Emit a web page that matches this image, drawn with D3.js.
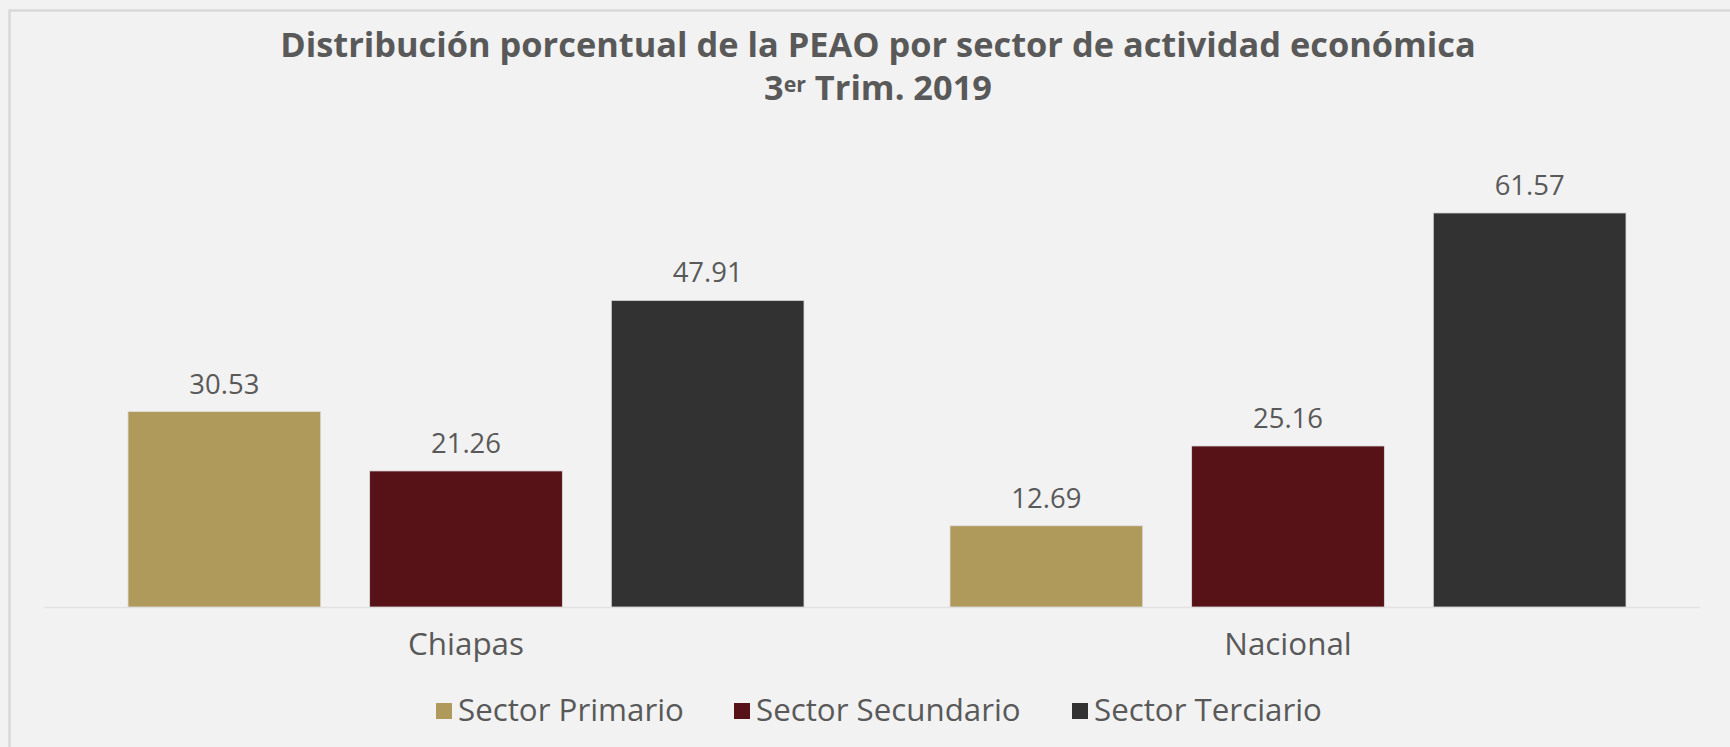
<!DOCTYPE html>
<html>
<head>
<meta charset="utf-8">
<script src="https://cdn.jsdelivr.net/npm/d3@7"></script>
<style>
  html, body { margin: 0; padding: 0; background: #f2f2f2; }
  svg { display: block; }
</style>
</head>
<body>
<svg id="chart" width="1730" height="747"></svg>
<script>
const categories = ["Chiapas", "Nacional"];
const seriesNames = ["Sector Primario", "Sector Secundario", "Sector Terciario"];
const primario = [30.53, 12.69];
const secundario = [21.26, 25.16];
const terciario = [47.91, 61.57];
const seriesColors = ["#b09a5b", "#561216", "#323232"];
const titleLine1 = "Distribución porcentual de la PEAO por sector de actividad económica";
const titleLine2 = ["3", "er", " Trim. 2019"];

const seriesValues = [primario, secundario, terciario];
const data = categories.map((c, i) => ({
  category: c,
  values: seriesNames.map((s, j) => ({ series: s, idx: j, value: seriesValues[j][i] }))
}));

const W = 1730, H = 747;
const svg = d3.select("#chart");
const textColor = "#595959";
const font = "'Open Sans', 'Liberation Sans', sans-serif";

svg.append("rect").attr("width", W).attr("height", H).attr("fill", "#f2f2f2");
svg.append("path")
  .attr("d", `M9.5,${H + 5} L9.5,10.5 L${W + 5},10.5`)
  .attr("fill", "none").attr("stroke", "#d9d9d9").attr("stroke-width", 2.5);

const probe = svg.append("text").attr("font-family", font);
function widthOf(str, size, weight) {
  probe.attr("font-weight", weight || 400).attr("font-size", size).text(str);
  return probe.node().getComputedTextLength();
}
function sizeFor(str, target, weight) {
  return +(20 * target / widthOf(str, 20, weight)).toFixed(2);
}

const titleSize = sizeFor(titleLine1, 1196, 700);
const supSize = titleSize * 0.62;
const sizes2 = [titleSize, supSize, titleSize];
const pieces2 = titleLine2.map(s => s.replace(/^ /, "\u00a0"));
const widths2 = pieces2.map((s, i) => widthOf(s, sizes2[i], 700));
const valueSize = sizeFor("61.57", 70);
const catSize = sizeFor("Chiapas", 116);
const legendSize = sizeFor("Sector Primario", 226);
probe.remove();

// Title line 1
svg.append("text")
  .attr("x", 878).attr("y", 57)
  .attr("text-anchor", "middle")
  .attr("font-family", font).attr("font-weight", 700)
  .attr("font-size", titleSize).attr("fill", textColor)
  .text(titleLine1);

// Title line 2 with superscript
let cx = 878 - d3.sum(widths2) / 2;
pieces2.forEach((s, i) => {
  svg.append("text")
    .attr("x", cx).attr("y", i === 1 ? 92 : 100)
    .attr("font-family", font).attr("font-weight", 700)
    .attr("font-size", sizes2[i]).attr("fill", textColor)
    .text(s);
  cx += widths2[i];
});

// Scales
const baseY = 607;
const y = d3.scaleLinear().domain([0, 70]).range([baseY, baseY - 448]);
const x0 = d3.scaleBand().domain(categories).range([55, 1699])
  .paddingInner(0.1776).paddingOuter(0.0888);
const x1 = d3.scaleBand().domain(seriesNames).range([0, x0.bandwidth()])
  .paddingInner(0.2025).paddingOuter(0);

svg.append("line")
  .attr("x1", 44).attr("x2", 1700)
  .attr("y1", baseY + 0.5).attr("y2", baseY + 0.5)
  .attr("stroke", "#e2e2e2").attr("stroke-width", 1.5);

const groups = svg.append("g").selectAll("g").data(data).join("g")
  .attr("transform", d => `translate(${x0(d.category)},0)`);

groups.selectAll("rect").data(d => d.values).join("rect")
  .attr("x", d => x1(d.series))
  .attr("y", d => y(d.value))
  .attr("width", x1.bandwidth())
  .attr("height", d => y(0) - y(d.value))
  .attr("fill", d => seriesColors[d.idx])
  .attr("stroke", "#dedede").attr("stroke-width", 0.8);

groups.selectAll("text.val").data(d => d.values).join("text")
  .attr("class", "val")
  .attr("x", d => x1(d.series) + x1.bandwidth() / 2)
  .attr("y", d => y(d.value) - 18)
  .attr("text-anchor", "middle")
  .attr("font-family", font).attr("font-size", valueSize)
  .attr("fill", textColor)
  .text(d => d.value.toFixed(2));

const xAxis = svg.append("g")
  .attr("transform", `translate(0,${baseY})`)
  .call(d3.axisBottom(x0).tickSize(0).tickPadding(48));
xAxis.select(".domain").remove();
xAxis.selectAll("text")
  .attr("font-family", font).attr("font-size", catSize)
  .attr("fill", textColor).attr("dy", 0);

const legendX = [436, 734, 1072];
const legend = svg.append("g");
seriesNames.forEach((s, i) => {
  legend.append("rect")
    .attr("x", legendX[i]).attr("y", 703)
    .attr("width", 16).attr("height", 16)
    .attr("fill", seriesColors[i]);
  legend.append("text")
    .attr("x", legendX[i] + 22).attr("y", 721)
    .attr("font-family", font).attr("font-size", legendSize)
    .attr("fill", textColor)
    .text(s);
});
</script>
</body>
</html>
